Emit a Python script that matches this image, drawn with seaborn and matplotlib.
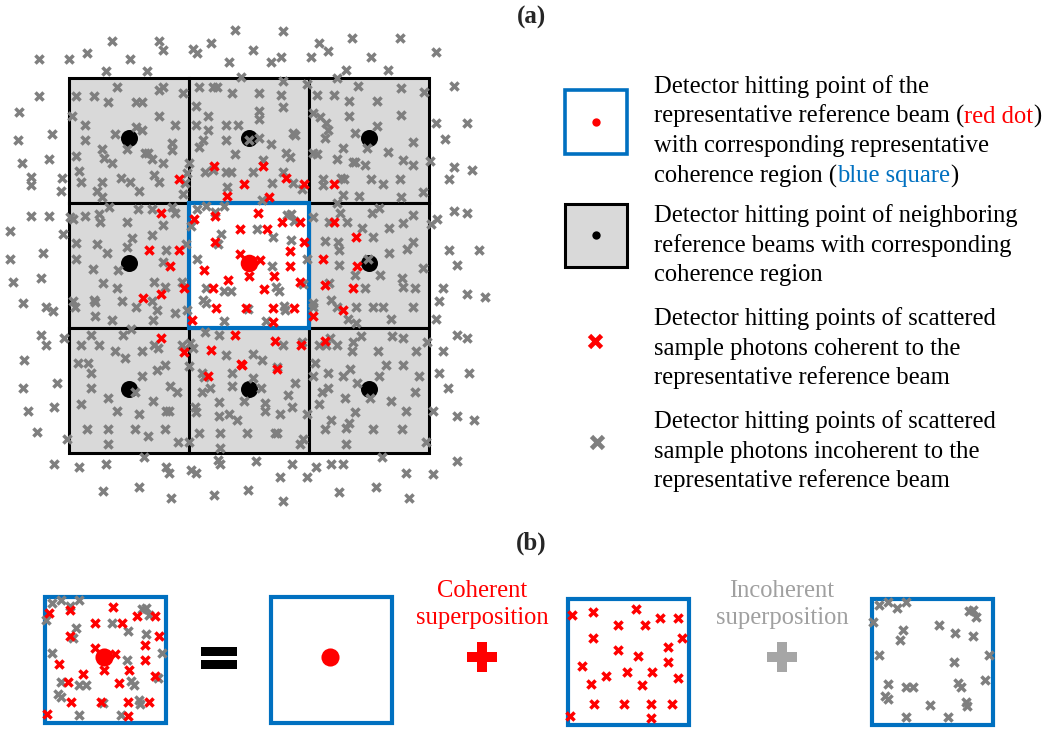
import matplotlib
matplotlib.use("Agg")
import matplotlib.pyplot as plt
from matplotlib.patches import Rectangle
import pandas as pd
import seaborn as sns

# ---------------------------------------------------------------------------
# Detector hits, in detector pixel coordinates (x right, y down)
# ---------------------------------------------------------------------------

# beam hitting points of the 3x3 reference beams (row-major), centre = representative
beam_cols = [129, 249, 369]
beam_rows = [138, 263, 389]

# scattered photons coherent to the representative beam, inside its coherence region
coherent_center = [
    (194, 219), (215, 216), (258, 213), (240, 229), (267, 229), (282, 222), (300, 222),
    (215, 242), (304, 242), (240, 254), (260, 260), (290, 251), (290, 266), (204, 270),
    (228, 280), (249, 276), (274, 276), (300, 282), (213, 288), (264, 289), (216, 308),
    (246, 308), (273, 308), (294, 308), (192, 320), (273, 322),
]

# coherent photons landing in the neighbouring regions
coherent_outer = [
    (179, 179), (214, 166), (244, 184), (227, 196), (263, 166), (286, 178), (304, 184),
    (269, 197), (334, 184), (334, 222), (356, 237), (323, 259), (357, 266), (161, 213),
    (149, 250), (179, 250), (170, 266), (143, 298), (161, 294), (184, 288), (161, 338),
    (184, 352), (235, 335), (211, 350), (241, 364), (208, 376), (325, 285), (353, 288),
    (343, 310), (313, 316), (275, 341), (301, 345), (242, 365), (277, 369), (325, 341),
]

# scattered photons incoherent to the representative beam, inside its coherence region
incoherent_center = [
    (197, 209), (206, 206), (215, 212), (224, 206), (191, 226), (221, 234), (218, 244),
    (197, 259), (257, 229), (273, 237), (287, 215), (291, 214), (294, 221), (291, 240),
    (272, 266), (307, 259), (303, 284), (206, 288), (224, 291), (231, 291), (203, 300),
    (206, 303), (276, 287), (279, 291), (248, 309), (284, 306), (285, 310), (224, 321),
    (266, 321),
]

# incoherent photons everywhere else on the detector
incoherent_top = [
    (235, 30), (112, 41), (159, 41), (163, 50), (211, 43), (193, 49), (197, 53), (39, 59),
    (69, 59), (87, 53), (130, 59), (229, 62), (106, 71), (147, 71), (241, 77), (39, 96),
    (19, 112), (52, 134), (18, 140), (49, 159), (22, 163), (31, 177), (31, 185), (62, 178),
    (61, 191), (31, 216), (49, 216), (10, 231), (63, 234), (43, 253), (10, 259),
    (283, 31), (253, 50), (319, 43), (328, 51), (271, 62), (281, 57), (311, 57), (352, 38),
    (400, 38), (371, 57), (436, 52), (346, 70), (388, 70), (454, 86), (436, 123), (467, 123),
    (445, 139), (454, 167), (472, 170), (449, 179), (454, 211), (467, 213), (437, 219),
    (431, 224), (449, 250), (479, 250), (457, 265),
]

incoherent_upper_cells = [
    (117, 87), (76, 96), (94, 96), (108, 102), (136, 102), (142, 102), (159, 90), (163, 87),
    (183, 93), (72, 116), (159, 116), (85, 125), (175, 125), (136, 127), (142, 130),
    (115, 134), (85, 140), (172, 143), (172, 150), (76, 156), (102, 149), (127, 149),
    (104, 158), (145, 153), (148, 153), (152, 159), (112, 163), (163, 163), (79, 171),
    (189, 163), (154, 175), (121, 178), (130, 182), (81, 182), (102, 182), (159, 182),
    (187, 173), (185, 183), (97, 191), (102, 197), (139, 191), (183, 194),
    (199, 87), (213, 87), (217, 87), (232, 93), (196, 106), (208, 116), (196, 125),
    (208, 130), (226, 125), (238, 125), (203, 140), (199, 147), (226, 140), (235, 154),
    (205, 172), (213, 170), (226, 172), (231, 172), (227, 187), (283, 81), (259, 93),
    (281, 95), (283, 107), (259, 111), (259, 119), (293, 133), (295, 135), (259, 138),
    (249, 140), (271, 144), (286, 153), (290, 157), (263, 160), (253, 172), (283, 172),
    (272, 183), (293, 183), (302, 189), (262, 200), (307, 84),
    (337, 78), (358, 86), (401, 88), (424, 92), (317, 95), (334, 95), (349, 101), (377, 101),
    (313, 113), (320, 117), (349, 116), (401, 115), (326, 123), (328, 130), (325, 138),
    (377, 126), (355, 133), (343, 148), (313, 153), (317, 154), (367, 148), (388, 152),
    (413, 142), (337, 159), (353, 162), (355, 162), (365, 165), (403, 160), (413, 165),
    (430, 161), (323, 179), (323, 185), (341, 178), (344, 179), (371, 179), (383, 184),
    (400, 179), (343, 195), (359, 196), (401, 197), (423, 192),
]

incoherent_middle_cells = [
    (337, 203), (313, 217), (329, 222), (340, 213), (347, 222), (372, 213), (379, 208),
    (413, 215), (362, 228), (389, 228), (403, 223), (373, 237), (325, 241), (338, 242),
    (339, 250), (413, 242), (407, 249), (389, 253), (339, 265), (368, 259), (423, 268),
    (355, 275), (380, 275), (402, 278), (403, 287), (415, 288), (365, 288), (329, 283),
    (331, 300), (337, 307), (313, 303), (313, 307), (356, 307), (373, 307), (383, 307),
    (413, 307), (348, 319), (356, 323), (391, 319),
    (73, 219), (70, 217), (85, 216), (99, 214), (100, 222), (109, 207), (138, 209),
    (152, 209), (172, 207), (175, 213), (163, 225), (127, 222), (76, 243), (97, 244),
    (132, 238), (152, 235), (127, 247), (76, 259), (107, 253), (166, 250), (163, 262),
    (186, 244), (93, 269), (118, 270), (103, 283), (117, 288), (154, 282), (165, 287),
    (182, 282), (73, 301), (75, 307), (94, 300), (95, 302), (122, 301), (152, 301),
    (136, 307), (157, 310), (175, 313), (95, 316), (112, 320), (153, 320), (187, 310),
]

incoherent_lower_cells = [
    (131, 329), (91, 335), (123, 335), (81, 345), (99, 345), (154, 345), (158, 348),
    (115, 351), (142, 351), (125, 358), (78, 363), (88, 363), (165, 365), (157, 370),
    (91, 373), (142, 376), (91, 388), (135, 392), (170, 386), (177, 392), (108, 398),
    (81, 404), (153, 401), (117, 411), (139, 414), (166, 411), (169, 411), (87, 429),
    (108, 429), (135, 429), (165, 429), (148, 436), (108, 444), (178, 442), (189, 442),
    (182, 345), (190, 343), (189, 366),
    (205, 332), (219, 335), (193, 348), (226, 355), (202, 373), (204, 377), (232, 373),
    (210, 388), (202, 392), (232, 386), (219, 402), (195, 407), (196, 412), (219, 416),
    (229, 414), (237, 420), (199, 433), (220, 433), (247, 433), (220, 448), (283, 345),
    (302, 342), (253, 354), (262, 360), (277, 367), (253, 378), (261, 388), (295, 383),
    (288, 395), (244, 401), (265, 403), (265, 411), (292, 407), (280, 414), (307, 414),
    (275, 433), (277, 433), (303, 439), (300, 444),
    (319, 345), (326, 345), (330, 338), (337, 345), (353, 342), (352, 351), (361, 336),
    (392, 336), (403, 338), (378, 351), (416, 351), (315, 363), (313, 376), (328, 373),
    (343, 376), (350, 369), (386, 365), (403, 365), (379, 376), (419, 376), (357, 383),
    (322, 392), (328, 388), (370, 398), (415, 392), (319, 404), (345, 398), (391, 401),
    (355, 412), (406, 411), (331, 420), (349, 423), (346, 428), (325, 429), (373, 429),
    (402, 429), (346, 444), (426, 442), (427, 342),
]

incoherent_bottom = [
    (13, 282), (41, 278), (23, 303), (46, 307), (53, 311), (41, 335), (46, 345), (64, 338),
    (24, 360), (57, 383), (23, 388), (54, 407), (28, 411), (37, 432), (67, 439), (54, 464),
    (79, 467), (106, 464), (144, 457), (166, 467), (169, 473), (191, 470), (196, 473),
    (103, 491), (139, 487), (171, 498), (214, 495), (218, 460), (220, 464), (248, 490),
    (443, 288), (467, 294), (485, 297), (439, 301), (436, 319), (457, 335), (467, 338),
    (443, 351), (439, 373), (469, 373), (448, 388), (433, 411), (457, 416), (474, 420),
    (457, 461), (433, 474), (406, 473), (376, 487), (409, 498), (339, 492), (283, 501),
    (256, 461), (292, 464), (280, 477), (307, 477), (316, 467), (331, 464), (343, 464),
    (382, 457),
]

# legend text
legend_blocks = [
    ["Detector hitting point of the",
     [("representative reference beam (", "k"), ("red dot", "red"), (")", "k")],
     "with corresponding representative",
     [("coherence region (", "k"), ("blue square", "blue"), (")", "k")]],
    ["Detector hitting point of neighboring",
     "reference beams with corresponding",
     "coherence region"],
    ["Detector hitting points of scattered",
     "sample photons coherent to the",
     "representative reference beam"],
    ["Detector hitting points of scattered",
     "sample photons incoherent to the",
     "representative reference beam"],
]

# ---------------------------------------------------------------------------
# styling / layout
# ---------------------------------------------------------------------------
RED = "#FF0000"
BLUE = "#0070C0"
GRAY = "#7F7F7F"
LIGHT = "#D9D9D9"
PALE = "#A6A6A6"
COLORS = {"k": "black", "red": RED, "blue": BLUE}

CELL_W, CELL_H = 120, 125.3
GRID_X0, GRID_Y0 = 69, 77.5
CENTER_ORIGIN = (190, 203)
FS = 17.7
W, H = 1051, 729

sns.set_theme(style="white")
plt.rcParams["font.family"] = ["Liberation Serif", "DejaVu Serif"]

fig = plt.figure(figsize=(W / 100, H / 100), dpi=100)
ax = fig.add_axes([0, 0, 1, 1])


def fix_frame():
    ax.set_xlim(0, W)
    ax.set_ylim(H, 0)
    ax.set_autoscale_on(False)


fix_frame()


def to_df(pts):
    return pd.DataFrame(pts, columns=["x", "y"])


def crosses(pts, color, s=34, lw=2.5, z=6, dx=0, dy=0):
    df = to_df(pts)
    df["x"] += dx
    df["y"] += dy
    sns.scatterplot(data=df, x="x", y="y", marker="x", color=color, s=s,
                    linewidth=lw, ax=ax, legend=False, zorder=z)
    fix_frame()


def dots(pts, color, s, z=4):
    sns.scatterplot(data=to_df(pts), x="x", y="y", color=color, s=s,
                    linewidth=0, ax=ax, legend=False, zorder=z)
    fix_frame()


# ---------------- panel (a): detector with 3x3 coherence regions --------------
for i in range(3):
    for j in range(3):
        centre = (i == 1 and j == 1)
        ax.add_patch(Rectangle((GRID_X0 + i * CELL_W, GRID_Y0 + j * CELL_H), CELL_W, CELL_H,
                               facecolor="white" if centre else LIGHT,
                               edgecolor="black", lw=2.2, zorder=1))
ax.add_patch(Rectangle((GRID_X0 + CELL_W, GRID_Y0 + CELL_H), CELL_W, CELL_H,
                       facecolor="none", edgecolor=BLUE, lw=3.0, zorder=3))

beams = [(bx, by) for by in beam_rows for bx in beam_cols]
neighbours = [b for k, b in enumerate(beams) if k != 4]
dots(neighbours, "black", 150)
dots([beams[4]], RED, 160, z=4.5)

incoherent_all = (incoherent_top + incoherent_upper_cells + incoherent_middle_cells
                  + incoherent_lower_cells + incoherent_bottom + incoherent_center)
crosses(incoherent_all, GRAY)
crosses(coherent_outer + coherent_center, RED, z=7)

ax.text(531, 24, "(a)", fontsize=18, fontweight="bold", ha="center", va="baseline")

# ---------------- legend -----------------------------------------------------
ax.add_patch(Rectangle((565, 90), 62, 64, facecolor="white", edgecolor=BLUE, lw=2.6, zorder=3))
dots([(596, 122)], RED, 36)
ax.add_patch(Rectangle((565, 204), 62, 63, facecolor=LIGHT, edgecolor="black", lw=2.2, zorder=3))
dots([(596, 235)], "black", 36)
crosses([(595, 341)], RED, s=75, lw=3.4)
crosses([(597, 442)], GRAY, s=75, lw=3.4)

renderer = fig.canvas.get_renderer()


def text_line(x, y, line):
    parts = [(line, "k")] if isinstance(line, str) else line
    for s, c in parts:
        t = ax.text(x, y, s, fontsize=FS, color=COLORS[c], ha="left", va="baseline")
        bb = t.get_window_extent(renderer=renderer)
        x = ax.transData.inverted().transform((bb.x1, bb.y0))[0]


block_tops = [93, 222, 325, 428]
LINE_STEP = 29.7
for top, block in zip(block_tops, legend_blocks):
    for k, line in enumerate(block):
        text_line(654, top + k * LINE_STEP, line)

# ---------------- panel (b): decomposition of the coherence region ----------
ax.text(531, 550, "(b)", fontsize=18, fontweight="bold", ha="center", va="baseline")

BOX_W, BOX_H = 121, 126
boxes = {"total": (45, 597), "ref": (271, 597), "coh": (568, 599), "inc": (872, 599)}
for (bx, by) in boxes.values():
    ax.add_patch(Rectangle((bx, by), BOX_W, BOX_H, facecolor="white",
                           edgecolor=BLUE, lw=3.0, zorder=3))


def shift(key):
    bx, by = boxes[key]
    return bx - CENTER_ORIGIN[0], by - CENTER_ORIGIN[1]


ref_beam = beams[4]
for key in ("total", "ref"):
    dx, dy = shift(key)
    dots([(ref_beam[0] + dx, ref_beam[1] + dy)], RED, 170, z=4.5)

dx, dy = shift("total")
crosses(incoherent_center, GRAY, dx=dx, dy=dy)
crosses(coherent_center, RED, z=7, dx=dx, dy=dy)
dx, dy = shift("coh")
crosses(coherent_center, RED, z=7, dx=dx, dy=dy)
dx, dy = shift("inc")
crosses(incoherent_center, GRAY, dx=dx, dy=dy)

# equals sign and plus signs
ax.add_patch(Rectangle((201, 647), 36, 9, facecolor="black", edgecolor="none", zorder=3))
ax.add_patch(Rectangle((201, 660), 36, 9, facecolor="black", edgecolor="none", zorder=3))
for cx, col in ((482, RED), (782, PALE)):
    ax.add_patch(Rectangle((cx - 15, 652), 30, 10, facecolor=col, edgecolor="none", zorder=3))
    ax.add_patch(Rectangle((cx - 5, 642), 10, 30, facecolor=col, edgecolor="none", zorder=3))

ax.text(482, 597, "Coherent", fontsize=FS, color=RED, ha="center", va="baseline")
ax.text(482, 624, "superposition", fontsize=FS, color=RED, ha="center", va="baseline")
ax.text(782, 597, "Incoherent", fontsize=FS, color="#A0A0A0", ha="center", va="baseline")
ax.text(782, 624, "superposition", fontsize=FS, color="#A0A0A0", ha="center", va="baseline")

fix_frame()
ax.axis("off")

fig.savefig("out.png", dpi=100)
